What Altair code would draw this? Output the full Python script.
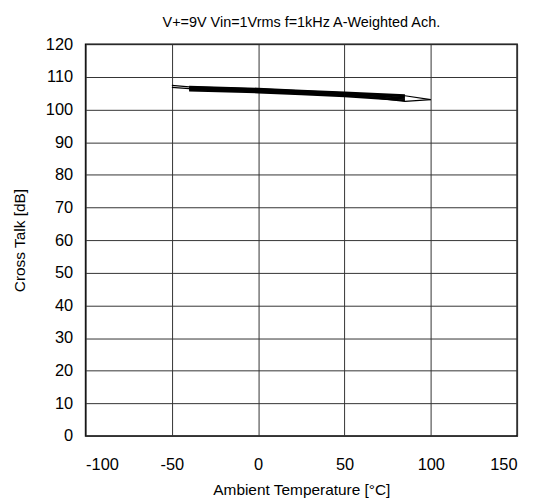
import altair as alt
import pandas as pd

# Data
band_temps = [-40, 0, 25, 50, 85]
band_1 = [107.0, 106.4, 105.8, 105.2, 104.4]
band_2 = [106.7, 106.1, 105.5, 104.9, 104.0]
band_3 = [106.4, 105.8, 105.2, 104.6, 103.6]
band_4 = [106.1, 105.5, 104.9, 104.3, 103.2]
band_5 = [105.8, 105.2, 104.6, 104.0, 102.8]

ext_temps = [-50, -40, 0, 25, 50, 85, 100]
ext_a = [107.4, 106.9, 106.3, 105.7, 105.1, 104.2, 103.0]
ext_b = [106.8, 106.4, 106.0, 105.3, 104.6, 102.5, 103.0]

x_ticks = [-100, -50, 0, 50, 100, 150]
y_ticks = list(range(0, 121, 10))

rows = []
for name, vals in [("b1", band_1), ("b2", band_2), ("b3", band_3), ("b4", band_4), ("b5", band_5)]:
    for t, v in zip(band_temps, vals):
        rows.append({"series": name, "temp": t, "val": v, "w": 1.8})
for name, vals in [("ea", ext_a), ("eb", ext_b)]:
    for t, v in zip(ext_temps, vals):
        rows.append({"series": name, "temp": t, "val": v, "w": 1.2})
df = pd.DataFrame(rows)

FONT = "Liberation Sans"

x = alt.X("temp:Q", scale=alt.Scale(domain=[-100, 150], nice=False),
          axis=alt.Axis(values=x_ticks, title="Ambient Temperature [°C]",
                        labelExpr="'' + datum.value",
                        grid=True, ticks=False, domain=False, labelPadding=21, titlePadding=9))
y = alt.Y("val:Q", scale=alt.Scale(domain=[0, 120], nice=False),
          axis=alt.Axis(values=y_ticks, title="Cross Talk [dB]",
                        labelExpr="'' + datum.value",
                        grid=True, ticks=False, domain=False, labelPadding=13, titlePadding=18))

chart = alt.Chart(df).mark_line(color="black").encode(
    x=x, y=y, detail="series:N", order="temp:Q",
    strokeWidth=alt.StrokeWidth("w:Q", scale=None, legend=None),
).properties(
    width=434, height=394,
    title=alt.TitleParams("V+=9V Vin=1Vrms f=1kHz A-Weighted Ach.", fontSize=14.5,
                          fontWeight="normal", font=FONT, color="black", offset=6),
    autosize=alt.AutoSizeParams(type="none"),
    padding={"left": 78, "top": 35, "right": 20, "bottom": 64},
).configure_axis(
    labelFont=FONT, titleFont=FONT, labelFontSize=16.5, titleFontSize=15.5,
    labelColor="black", titleColor="black", titleFontWeight="normal",
    gridColor="#333333", gridWidth=1, gridOpacity=1,
).configure_view(
    stroke="black", strokeWidth=1.5
)

chart.save("out.html", embed_options={"renderer": "svg", "actions": False})
